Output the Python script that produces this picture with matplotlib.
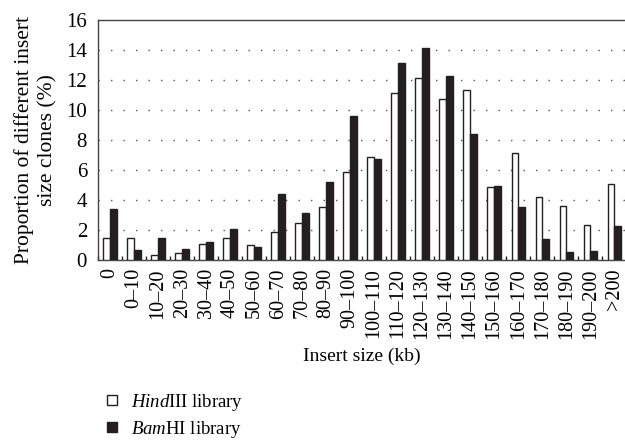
import matplotlib
matplotlib.use('Agg')
from matplotlib import pyplot as plt
from matplotlib.lines import Line2D
import numpy as np

plt.rcParams['font.family'] = ['Liberation Serif', 'DejaVu Serif']
plt.rcParams['mathtext.fontset'] = 'custom'
plt.rcParams['mathtext.rm'] = 'Liberation Serif'
plt.rcParams['mathtext.it'] = 'Liberation Serif:italic'

categories = ['0', '0\u201310', '10\u201320', '20\u201330', '30\u201340', '40\u201350',
              '50\u201360', '60\u201370', '70\u201380', '80\u201390', '90\u2013100',
              '100\u2013110', '110\u2013120', '120\u2013130', '130\u2013140', '140\u2013150',
              '150\u2013160', '160\u2013170', '170\u2013180', '180\u2013190', '190\u2013200', '>200']
hind = [1.43, 1.45, 0.31, 0.47, 1.05, 1.45, 0.98, 1.83, 2.49, 3.52, 5.84,
        6.86, 11.18, 12.14, 10.73, 11.36, 4.9, 7.17, 4.19, 3.63, 2.34, 5.08]
bam = [3.43, 0.69, 1.43, 0.71, 1.18, 2.05, 0.89, 4.43, 3.12, 5.23, 9.6,
       6.73, 13.18, 14.14, 12.27, 8.42, 4.94, 3.52, 1.4, 0.53, 0.58, 2.29]

dark = '#231f20'
fs = 15
fig = plt.figure(figsize=(6.25, 4.42), dpi=100)
ax = fig.add_axes([0.157, 0.412, 0.845, 0.542])

x = np.arange(len(categories))
w = 0.28
ax.bar(x - w / 2, hind, w, color='white', edgecolor=dark, linewidth=1.0, zorder=3)
ax.bar(x + w / 2, bam, w, color=dark, edgecolor=dark, linewidth=1.0, zorder=3)

ax.set_xlim(-0.5, len(categories) - 0.5)
ax.set_ylim(0, 16)
ax.set_yticks(range(0, 17, 2))
ax.set_xticks(x)
ax.set_xticklabels(categories, rotation=90, fontsize=14.5)
ax.set_xticks(np.arange(-0.5, len(categories), 1), minor=True)
ax.tick_params(axis='x', which='major', length=0, pad=6)
ax.tick_params(axis='x', which='minor', direction='in', length=3, width=1, color=dark)
ax.tick_params(axis='y', length=0, labelsize=fs, pad=8)

for y in range(2, 16, 2):
    ax.axhline(y, color='#555555', linestyle=(0, (1, 8)), linewidth=1.0, zorder=1)

for s in ['left', 'top', 'bottom']:
    ax.spines[s].set_color('#444444')
    ax.spines[s].set_linewidth(1.0)
ax.spines['right'].set_visible(False)

ax.set_ylabel('Proportion of different insert\nsize clones (%)', fontsize=15.5,
              linespacing=1.3, labelpad=6)
ax.set_xlabel('Insert size (kb)', fontsize=14, labelpad=6)

handles = [Line2D([], [], marker='s', linestyle='none', markersize=7,
                  markerfacecolor='white', markeredgecolor=dark, markeredgewidth=1),
           Line2D([], [], marker='s', linestyle='none', markersize=7,
                  markerfacecolor=dark, markeredgecolor=dark)]
fig.legend(handles, [r'$\it{Hind}$III library', r'$\it{Bam}$HI library'],
           loc='upper left', bbox_to_anchor=(0.155, 0.13), frameon=False,
           fontsize=13.5, handlelength=0.8, handletextpad=0.6, labelspacing=0.3,
           borderaxespad=0)

plt.savefig('out.png', dpi=100)
